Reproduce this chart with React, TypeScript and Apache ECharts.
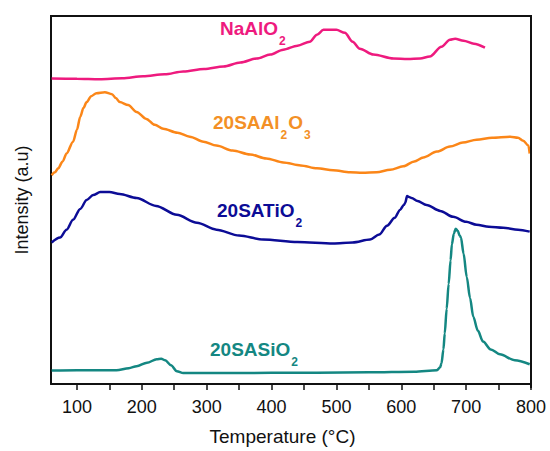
import React, { useEffect, useRef } from "react";
import * as echarts from "echarts";

// Temperature (°C) and intensity (a.u., arbitrary offset units)
const naAlO2Temp = [61, 100, 135, 170, 202, 235, 264, 296, 326, 352, 377, 398, 418, 440, 459, 470, 480, 500, 513, 525, 536, 557, 588, 610, 629, 644, 662, 675, 683, 696, 712, 729];
const naAlO2Int = [308.7, 308.5, 308, 309, 311, 313, 316, 318.5, 321, 325, 329, 333, 338, 342, 346, 353, 358, 358, 355, 346, 339, 333, 329, 328.5, 329, 331, 341, 348, 349, 347, 344, 340];

const saAl2O3Temp = [61, 66, 71, 78, 84, 94, 100, 105, 110, 115, 122, 130, 143, 154, 160, 166, 179, 192, 207, 220, 233, 255, 274, 295, 315, 340, 367, 392, 418, 445, 470, 495, 521, 540, 562, 583, 603, 620, 634, 655, 675, 695, 716, 740, 768, 780, 788, 796, 798];
const saAl2O3Int = [211, 214, 218, 225, 233, 245, 257, 270, 279, 285, 291, 294, 295, 293, 289, 285, 282, 275, 268, 262, 258, 254, 250, 245, 241, 236, 232, 228, 224, 221, 218, 216, 214, 213.5, 214, 216.5, 220, 225, 229, 235, 240, 244, 247, 249, 250, 249, 246, 241, 233];

const saTiO2Temp = [61, 74, 84, 94, 105, 115, 125, 136, 150, 166, 192, 222, 254, 285, 315, 350, 387, 440, 495, 525, 552, 566, 578, 590, 598, 604, 606, 609, 612, 616, 625, 639, 660, 680, 700, 716, 735, 757, 780, 798];
const saTiO2Int = [143, 148, 156, 166, 177, 186, 191, 194, 194, 192, 188, 180, 171, 163, 156, 150, 146, 143.5, 142, 143, 146, 151, 160, 168, 176, 181, 183, 190, 189, 188, 185, 181, 175, 169, 164, 161, 159, 158, 156, 154];

const saSiO2Temp = [61, 100, 130, 161, 180, 192, 208, 223, 230, 236, 245, 254, 264, 300, 400, 470, 550, 620, 655, 660, 662, 665, 667, 670, 673, 676, 678, 681, 684, 687, 690, 692, 696, 701, 706, 711, 718, 726, 738, 752, 775, 798];
const saSiO2Int = [13.7, 14, 14, 14, 16, 18, 21.5, 25, 25.5, 24, 19, 13, 11, 11, 11.3, 11.3, 11.8, 12.5, 14, 17, 21, 35, 51, 76, 101, 125, 141, 152, 157, 155, 150, 148, 132, 108, 87, 68, 54, 43, 35, 30, 24, 20];

const xTickValues = [100, 150, 200, 250, 300, 350, 400, 450, 500, 550, 600, 650, 700, 750, 800];
const xLabelValues = [100, 200, 300, 400, 500, 600, 700, 800];

const seriesNames = ["NaAlO2", "20SAAl2O3", "20SATiO2", "20SASiO2"];
const seriesColors = ["#EE1A7E", "#FB8618", "#0C0C96", "#148782"];

const zip = (xs: number[], ys: number[]) => xs.map((x, i) => [x, ys[i]]);

const FONT = "Liberation Sans, Arial, sans-serif";
const X_MIN = 60;
const X_MAX = 800;
const Y_MIN = 0;
const Y_MAX = 372;

const GRID = { left: 51, right: 19, top: 16, bottom: 63 };
const W = 550;
const H = 451;

function label(x: number, y: number, color: string, parts: [string, boolean][]) {
  return {
    type: "text",
    x,
    y,
    z: 100,
    style: {
      text: parts.map(([t, sub]) => `{${sub ? "s" : "a"}|${t}}`).join(""),
      fill: color,
      align: "left",
      verticalAlign: "top",
      rich: {
        a: { fontSize: 19, fontWeight: "bold", lineHeight: 22, fontFamily: FONT, fill: color, verticalAlign: "top" },
        s: { fontSize: 12, fontWeight: "bold", lineHeight: 12, padding: [16, 1, 0, 1], fontFamily: FONT, fill: color, verticalAlign: "top" },
      },
    },
  };
}

export default function App() {
  const ref = useRef<HTMLDivElement>(null);
  useEffect(() => {
    document.body.style.margin = "0";
    if (!ref.current) return;
    const chart = echarts.init(ref.current, undefined, { renderer: "svg" });
    const datasets = [
      zip(naAlO2Temp, naAlO2Int),
      zip(saAl2O3Temp, saAl2O3Int),
      zip(saTiO2Temp, saTiO2Int),
      zip(saSiO2Temp, saSiO2Int),
    ];
    const frameLine = { show: true, onZero: false, lineStyle: { color: "#111", width: 2 } };
    chart.setOption({
      animation: false,
      backgroundColor: "#fff",
      textStyle: { fontFamily: FONT },
      grid: GRID,
      xAxis: {
        type: "value",
        min: X_MIN,
        max: X_MAX,
        name: "Temperature (°C)",
        nameLocation: "middle",
        nameGap: 43,
        nameTextStyle: { fontSize: 19, color: "#111", padding: [0, 17, 0, 0] },
        axisLine: frameLine,
        axisTick: { show: true, length: 6, inside: false, customValues: xTickValues, lineStyle: { color: "#111", width: 1.5 } },
        axisLabel: { fontSize: 18, color: "#111", margin: 14, customValues: xLabelValues },
        splitLine: { show: false },
      },
      yAxis: {
        type: "value",
        min: Y_MIN,
        max: Y_MAX,
        name: "Intensity (a.u)",
        nameLocation: "middle",
        nameGap: 20,
        nameTextStyle: { fontSize: 18, color: "#111" },
        axisLine: frameLine,
        axisTick: { show: false },
        axisLabel: { show: false },
        splitLine: { show: false },
      },
      series: datasets.map((d, i) => ({
        name: seriesNames[i],
        type: "line",
        data: d,
        showSymbol: false,
        smooth: 0.3,
        smoothMonotone: "x",
        lineStyle: { color: seriesColors[i], width: 2.5 },
        itemStyle: { color: seriesColors[i] },
      })),
      graphic: [
        label(220, 19, seriesColors[0], [["NaAlO", false], ["2", true]]),
        label(213, 113, "#F39026", [["20SAAl", false], ["2", true], ["O", false], ["3", true]]),
        label(217, 201, seriesColors[2], [["20SATiO", false], ["2", true]]),
        label(210, 340, seriesColors[3], [["20SASiO", false], ["2", true]]),
      ],
    });
    return () => chart.dispose();
  }, []);
  return (
    <div style={{ position: "relative", width: W, height: H }}>
      <div ref={ref} style={{ width: W, height: H }} />
      <div
        style={{
          position: "absolute",
          left: GRID.left - 1,
          top: GRID.top - 1,
          width: W - GRID.left - GRID.right + 2,
          height: H - GRID.top - GRID.bottom + 1,
          boxSizing: "border-box",
          borderTop: "2px solid #111",
          borderRight: "2px solid #111",
          pointerEvents: "none",
        }}
      />
    </div>
  );
}
